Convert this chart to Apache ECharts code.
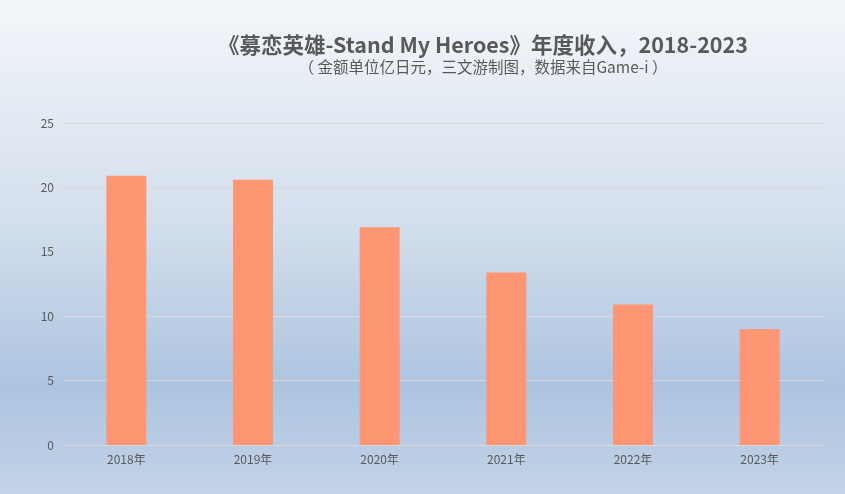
<!DOCTYPE html>
<html><head><meta charset="utf-8">
<script src="https://cdn.jsdelivr.net/npm/echarts@6/dist/echarts.min.js"></script>
<style>html,body{margin:0;padding:0;}#c{width:845px;height:494px;}</style>
</head><body><div id="c"></div>
<script>
const categories = ['2018年','2019年','2020年','2021年','2022年','2023年'];
const revenue = [20.9, 20.6, 16.9, 13.4, 10.9, 9.0];
const titleText = '《募恋英雄-Stand My Heroes》年度收入，2018-2023';
const subtitleText = '（ 金额单位亿日元，三文游制图，数据来自Game-i ）';

const chart = echarts.init(document.getElementById('c'));
chart.setOption({
  backgroundColor: {
    type: 'linear', x: 0, y: 0, x2: 0, y2: 1,
    colorStops: [
      {offset: 0, color: '#f4f6fa'},
      {offset: 0.45, color: '#d3dfed'},
      {offset: 0.78, color: '#adc4e0'},
      {offset: 1, color: '#c3d3e8'}
    ]
  },
  title: {
    text: titleText,
    subtext: subtitleText,
    left: 478, top: 29, textAlign: 'center',
    itemGap: 4,
    textStyle: {fontFamily: 'Noto Sans CJK SC', fontSize: 21.5, fontWeight: 'bold', color: '#595959'},
    subtextStyle: {fontFamily: 'Noto Sans CJK SC', fontSize: 15.5, color: '#595959'}
  },
  grid: {left: 63, right: 22, top: 123, bottom: 49, containLabel: false},
  xAxis: {
    type: 'category', data: categories,
    axisLine: {show: true, lineStyle: {color: '#d9d9d9'}},
    axisTick: {show: false},
    axisLabel: {color: '#595959', fontSize: 12, fontFamily: 'Noto Sans CJK SC', margin: 8}
  },
  yAxis: {
    type: 'value', min: 0, max: 25, interval: 5,
    axisLine: {show: false}, axisTick: {show: false},
    axisLabel: {color: '#595959', fontSize: 12, fontFamily: 'Noto Sans CJK SC', margin: 9},
    splitLine: {lineStyle: {color: '#d9d9d9'}}
  },
  series: [{
    type: 'bar', data: revenue, barWidth: 40,
    itemStyle: {color: '#ff9673'},
    animation: false
  }],
  animation: false
});
</script></body></html>
